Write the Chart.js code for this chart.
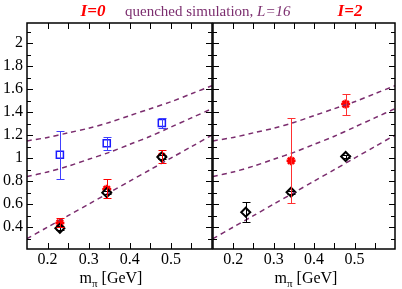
<!DOCTYPE html>
<html>
<head>
<meta charset="utf-8">
<script src="https://cdn.jsdelivr.net/npm/chart.js@4.4.0/dist/chart.umd.min.js"></script>
<style>
  html, body { margin: 0; padding: 0; background: #fff; }
  #wrap { position: relative; width: 402px; height: 289px; }
  #wrap canvas { position: absolute; left: 0; top: 0; }
</style>
</head>
<body>
<div id="wrap">
  <canvas id="chartI0" width="402" height="289"></canvas>
  <canvas id="chartI2" width="402" height="289"></canvas>
</div>
<script>
// axis ticks
const xTickVals = [0.2, 0.3, 0.4, 0.5];
const xMinorVals = [0.25, 0.35, 0.45, 0.55];
const yTickVals = [0.4, 0.6, 0.8, 1.0, 1.2, 1.4, 1.6, 1.8, 2.0];
const yMinorVals = [0.3, 0.5, 0.7, 0.9, 1.1, 1.3, 1.5, 1.7, 1.9, 2.1];

// dashed energy levels (same in both panels)
const curveX = [0.15, 0.2, 0.25, 0.3, 0.35, 0.4, 0.45, 0.5, 0.55, 0.6];
const curveTop = [1.15, 1.18, 1.22, 1.26, 1.31, 1.37, 1.43, 1.49, 1.56, 1.63];
const curveMid = [0.84, 0.88, 0.93, 0.99, 1.05, 1.12, 1.19, 1.27, 1.35, 1.43];
const curveLow = [0.30, 0.40, 0.50, 0.60, 0.70, 0.80, 0.90, 1.00, 1.10, 1.20];

// I=0 panel
const mpiI0 = [0.23, 0.344, 0.478];
const blueI0 = [1.03, 1.13, 1.305];
const blueI0Lo = [0.82, 1.07, 1.26];
const blueI0Hi = [1.24, 1.185, 1.35];
const redI0 = [0.435, 0.73, 1.014];
const redI0Lo = [0.40, 0.655, 0.957];
const redI0Hi = [0.48, 0.815, 1.07];
const blackI0 = [0.39, 0.70, 1.01];
const blackI0Lo = [0.372, 0.685, 0.995];
const blackI0Hi = [0.408, 0.715, 1.025];

// I=2 panel
const mpiI2Black = [0.231, 0.343, 0.478];
const blackI2 = [0.53, 0.704, 1.014];
const blackI2Lo = [0.445, 0.69, 1.005];
const blackI2Hi = [0.615, 0.718, 1.024];
const mpiI2Red = [0.343, 0.478];
const redI2 = [0.977, 1.47];
const redI2Lo = [0.614, 1.377];
const redI2Hi = [1.348, 1.56];

const SERIF = '"Liberation Serif", "DejaVu Serif", serif';
const PURPLE = '#7b2d6e';

const pts = (xs, ys) => xs.map((x, i) => ({ x: x, y: ys[i] }));

function curveSets() {
    return [curveTop, curveMid, curveLow].map(c => ({
        data: pts(curveX, c),
        showLine: true,
        borderColor: PURPLE,
        borderWidth: 1.5,
        borderDash: [5, 4],
        pointRadius: 0,
        tension: 0.3
    }));
}

const errorBarPlugin = {
    id: 'errorBars',
    afterDatasetsDraw(chart) {
        const { ctx, scales: { x, y } } = chart;
        ctx.save();
        chart.data.datasets.forEach(ds => {
            if (!ds.errLo) return;
            ctx.strokeStyle = ds.barColor;
            ctx.lineWidth = 1;
            ds.data.forEach((p, i) => {
                const px = Math.round(x.getPixelForValue(p.x)) + 0.5;
                const yl = Math.round(y.getPixelForValue(ds.errLo[i])) + 0.5;
                const yh = Math.round(y.getPixelForValue(ds.errHi[i])) + 0.5;
                ctx.beginPath();
                ctx.moveTo(px, yl); ctx.lineTo(px, yh);
                ctx.moveTo(px - 4, yl); ctx.lineTo(px + 4, yl);
                ctx.moveTo(px - 4, yh); ctx.lineTo(px + 4, yh);
                ctx.stroke();
            });
        });
        ctx.restore();
    }
};

const framePlugin = {
    id: 'frame',
    afterDraw(chart) {
        const { ctx, chartArea: a, scales: { x, y } } = chart;
        const h = chart.options.plugins.frame;
        ctx.save();
        ctx.strokeStyle = '#000';
        ctx.lineWidth = 1;
        ctx.beginPath();
        const yTick = (v, len) => {
            const py = Math.round(y.getPixelForValue(v)) + 0.5;
            ctx.moveTo(a.left, py); ctx.lineTo(a.left + len, py);
            ctx.moveTo(a.right, py); ctx.lineTo(a.right - len, py);
        };
        const xTick = (v, len) => {
            const px = Math.round(x.getPixelForValue(v)) + 0.5;
            ctx.moveTo(px, a.top); ctx.lineTo(px, a.top + len);
            ctx.moveTo(px, a.bottom); ctx.lineTo(px, a.bottom - len);
        };
        yTickVals.forEach(v => yTick(v, 6));
        yMinorVals.forEach(v => yTick(v, 4));
        xTickVals.forEach(v => xTick(v, 6));
        xMinorVals.forEach(v => xTick(v, 6));
        ctx.stroke();
        ctx.lineWidth = 1.5;
        ctx.strokeRect(a.left, a.top, a.right - a.left, a.bottom - a.top);

        // axis title m_pi [GeV]
        ctx.fillStyle = '#000';
        ctx.textBaseline = 'alphabetic';
        ctx.font = '16px ' + SERIF;
        const wm = ctx.measureText('m').width;
        const wg = ctx.measureText(' [GeV]').width;
        ctx.font = '11px ' + SERIF;
        const wp = ctx.measureText('\u03c0').width;
        let tx = h.titleX - (wm + wp + wg) / 2;
        const ty = 283;
        ctx.font = '16px ' + SERIF;
        ctx.fillText('m', tx, ty);
        ctx.font = '11px ' + SERIF;
        ctx.fillText('\u03c0', tx + wm, ty + 4);
        ctx.font = '16px ' + SERIF;
        ctx.fillText(' [GeV]', tx + wm + wp, ty);

        // header
        ctx.font = 'italic bold 17px ' + SERIF;
        ctx.fillStyle = '#ff0000';
        ctx.textAlign = 'center';
        ctx.fillText(h.label, h.labelX, 16);
        if (h.subtitle) {
            ctx.textAlign = 'left';
            ctx.fillStyle = PURPLE;
            let sx = 125;
            ctx.font = '15px ' + SERIF;
            ctx.fillText('quenched simulation, ', sx, 16);
            sx += ctx.measureText('quenched simulation, ').width;
            ctx.font = 'italic 15px ' + SERIF;
            ctx.fillText('L', sx, 16);
            sx += ctx.measureText('L').width;
            ctx.fillText('=16', sx, 16);
        }
        ctx.restore();
    }
};

function makeOptions(isLeft) {
    return {
        responsive: false,
        animation: false,
        layout: {
            padding: isLeft
                ? { left: 0, right: 190, top: 23, bottom: 0 }
                : { left: 213, right: 2, top: 23, bottom: 0 }
        },
        plugins: {
            legend: { display: false },
            tooltip: { enabled: false },
            frame: isLeft
                ? { label: 'I=0', labelX: 93, titleX: 111, subtitle: true }
                : { label: 'I=2', labelX: 350, titleX: 306, subtitle: false }
        },
        scales: {
            x: {
                type: 'linear',
                min: 0.15,
                max: 0.6,
                grid: { display: false, drawTicks: false },
                border: { display: false },
                afterBuildTicks: s => { s.ticks = xTickVals.map(v => ({ value: v })); },
                afterFit: s => { s.height = 40; },
                ticks: {
                    padding: 1,
                    color: '#000',
                    font: { family: SERIF, size: 16 },
                    callback: v => v.toFixed(1)
                }
            },
            y: {
                type: 'linear',
                display: isLeft,
                min: 0.21,
                max: 2.175,
                grid: { display: false, drawTicks: false },
                border: { display: false },
                afterBuildTicks: s => { s.ticks = yTickVals.map(v => ({ value: v })); },
                afterFit: s => { s.width = isLeft ? 27 : 0; },
                ticks: {
                    padding: 4,
                    color: '#000',
                    font: { family: SERIF, size: 16 },
                    callback: v => String(+v.toFixed(1))
                }
            }
        }
    };
}

new Chart(document.getElementById('chartI0'), {
    type: 'scatter',
    data: {
        datasets: [
            ...curveSets(),
            {
                data: pts(mpiI0, blackI0),
                errLo: blackI0Lo, errHi: blackI0Hi, barColor: '#000',
                pointStyle: 'rectRot', pointRadius: 4.5,
                borderColor: '#000', backgroundColor: '#fff', borderWidth: 2
            },
            {
                data: pts(mpiI0, blueI0),
                errLo: blueI0Lo, errHi: blueI0Hi, barColor: '#4040ff',
                pointStyle: 'rect', pointRadius: 5,
                borderColor: '#1a1aff', backgroundColor: 'rgba(0,0,0,0)', borderWidth: 1.5
            },
            {
                data: pts(mpiI0, redI0),
                errLo: redI0Lo, errHi: redI0Hi, barColor: '#ff0000',
                pointStyle: 'star', pointRadius: 4.5,
                borderColor: '#ff0000', backgroundColor: '#ff0000', borderWidth: 2.5
            }
        ]
    },
    options: makeOptions(true),
    plugins: [errorBarPlugin, framePlugin]
});

new Chart(document.getElementById('chartI2'), {
    type: 'scatter',
    data: {
        datasets: [
            ...curveSets(),
            {
                data: pts(mpiI2Black, blackI2),
                errLo: blackI2Lo, errHi: blackI2Hi, barColor: '#000',
                pointStyle: 'rectRot', pointRadius: 4.5,
                borderColor: '#000', backgroundColor: '#fff', borderWidth: 2
            },
            {
                data: pts(mpiI2Red, redI2),
                errLo: redI2Lo, errHi: redI2Hi, barColor: '#ff3030',
                pointStyle: 'star', pointRadius: 4.5,
                borderColor: '#ff0000', backgroundColor: '#ff0000', borderWidth: 2.5
            }
        ]
    },
    options: makeOptions(false),
    plugins: [errorBarPlugin, framePlugin]
});
</script>
</body>
</html>
